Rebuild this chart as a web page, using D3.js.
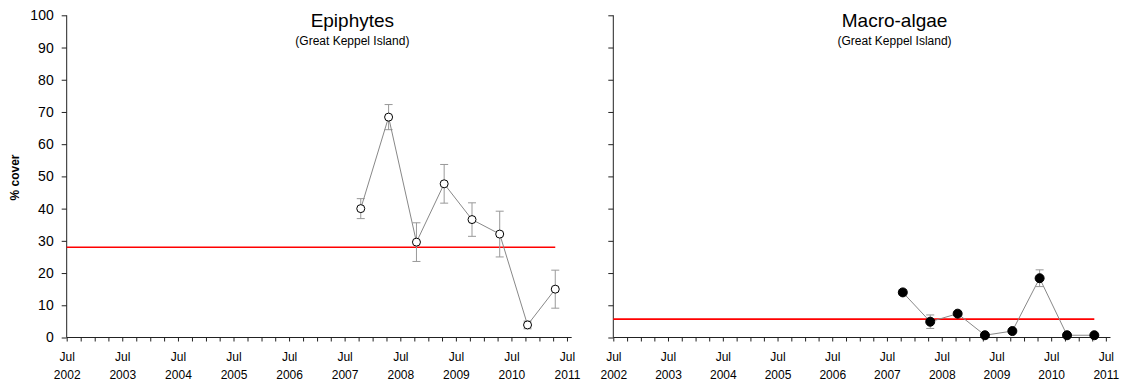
<!DOCTYPE html>
<html><head><meta charset="utf-8">
<script src="https://cdn.jsdelivr.net/npm/d3@7"></script>
<style>
body{margin:0;background:#fff;}
svg{display:block;font-family:"Liberation Sans",Arial,sans-serif;}
</style></head>
<body><svg id="c" width="1126" height="383"></svg>
<script>
// ---- data ----
const sampleDates = ["2007-10-15","2008-04-15","2008-10-15","2009-04-15","2009-10-15","2010-04-15","2010-10-15","2011-04-15"];
const epiphyteMean = [40.0, 68.4, 29.6, 47.7, 36.6, 32.1, 3.9, 15.0];
const epiphyteSE   = [3.1, 3.9, 6.0, 6.0, 5.2, 7.1, 1.2, 5.9];
const macroMean    = [14.0, 4.9, 7.4, 0.7, 2.0, 18.4, 0.7, 0.7];
const macroSE      = [0.9, 2.1, 0.5, 0.3, 0.4, 2.6, 0.3, 0.3];
const guideline    = [28.0, 5.7];
const panelTitles  = ["Epiphytes", "Macro-algae"];
const subTitle     = "(Great Keppel Island)";
const yTicks       = [0,10,20,30,40,50,60,70,80,90,100];
const yLabel       = "% cover";
const monthNames   = ["Jan","Feb","Mar","Apr","May","Jun","Jul","Aug","Sep","Oct","Nov","Dec"];

(function(){
const parse = d3.timeParse("%Y-%m-%d");
const svg = d3.select("#c");

const panels = [
  {left:66.7, right:571.7, mean:epiphyteMean, se:epiphyteSE, fill:"#fff", r:4, title:panelTitles[0], gl:guideline[0], yLabels:true},
  {left:613.3, right:1110.5, mean:macroMean, se:macroSE, fill:"#000", r:4.5, title:panelTitles[1], gl:guideline[1], yLabels:false}
];
const yTop = 15.3, yBot = 337.5;
const x0 = new Date(2002,6,1), x1 = new Date(2011,7,1);

panels.forEach(p => {
  const x = d3.scaleTime().domain([x0,x1]).range([p.left,p.right]);
  const y = d3.scaleLinear().domain([0,100]).range([yBot,yTop]);
  const g = svg.append("g");

  // y axis
  const ya = g.append("g").attr("transform",`translate(${p.left},0)`)
    .call(d3.axisLeft(y).tickValues(yTicks).tickSize(5).tickPadding(8)
      .tickFormat(p.yLabels ? d3.format("d") : ""));
  ya.select(".domain").attr("stroke","#222").attr("d",`M0,${yTop}V${yBot}`);
  ya.selectAll(".tick line").attr("stroke","#222");
  ya.selectAll("text").attr("font-size","14px").attr("fill","#000");

  // x axis
  const xt = d3.timeMonth.every(3).range(x0, x1);
  const xa = g.append("g").attr("transform",`translate(0,${yBot})`)
    .call(d3.axisBottom(x).tickValues(xt).tickSize(4).tickFormat(""));
  xa.select(".domain").attr("stroke","#222").attr("d",`M${p.left},0H${p.right}`);
  xa.selectAll(".tick line").attr("stroke","#222");
  xa.selectAll(".tick").filter(d => d.getMonth()===6).each(function(d){
    const t = d3.select(this).select("text").text(null).attr("font-size","12px").attr("fill","#000").attr("y",null).attr("dy",null);
    t.append("tspan").attr("x",0).attr("y",23).text(monthNames[d.getMonth()]);
    t.append("tspan").attr("x",0).attr("y",41).text(d.getFullYear());
  });

  const dates = sampleDates.map(parse);

  // guideline
  g.append("line").attr("x1",x(x0)).attr("x2",x(dates[dates.length-1]))
    .attr("y1",y(p.gl)).attr("y2",y(p.gl)).attr("stroke","#ff0000").attr("stroke-width",1.6);

  // error bars
  const eb = g.append("g").attr("stroke","#999").attr("stroke-width",1).attr("fill","none");
  dates.forEach((d,i) => {
    const cx = x(d), hi = y(p.mean[i]+p.se[i]), lo = y(Math.max(0,p.mean[i]-p.se[i]));
    eb.append("path").attr("d",`M${cx},${hi}V${lo}M${cx-4},${hi}H${cx+4}M${cx-4},${lo}H${cx+4}`);
  });

  // line
  const line = d3.line().x((d,i)=>x(dates[i])).y(d=>y(d));
  g.append("path").datum(p.mean).attr("d",line).attr("fill","none").attr("stroke","#888").attr("stroke-width",1);

  // points
  g.selectAll("circle.pt").data(p.mean).join("circle").attr("class","pt")
    .attr("cx",(d,i)=>x(dates[i])).attr("cy",d=>y(d)).attr("r",p.r)
    .attr("fill",p.fill).attr("stroke","#000").attr("stroke-width",1);

  // titles
  const cx = p.left + 0.571*(x(new Date(2011,6,1))-p.left);
  g.append("text").attr("x",cx).attr("y",27).attr("text-anchor","middle").attr("font-size","19px").text(p.title);
  g.append("text").attr("x",cx).attr("y",45).attr("text-anchor","middle").attr("font-size","12px").text(subTitle);
});

// y label
svg.append("text").attr("transform","translate(19,177.5) rotate(-90)").attr("text-anchor","middle")
  .attr("font-size","12px").attr("font-weight","bold").text(yLabel);
})();
</script></body></html>
